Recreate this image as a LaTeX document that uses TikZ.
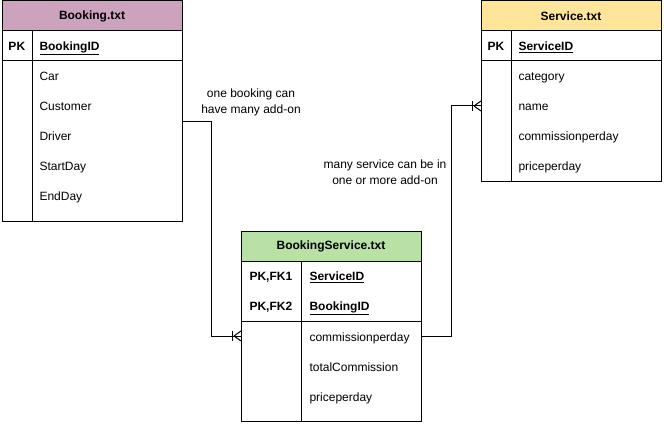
\documentclass[tikz,border=0pt]{standalone}
\usepackage{fontspec}
\setmainfont{Liberation Sans}
\definecolor{bkc}{HTML}{CDA2BE}
\definecolor{svc}{HTML}{FFE599}
\definecolor{bsc}{HTML}{B9E0A5}
\begin{document}
\begin{tikzpicture}[x=1pt,y=-1pt,line width=1pt,
  cell/.style={draw, anchor=north west, minimum width=180pt, inner sep=0pt, outer sep=0pt},
  hdr/.style={cell, minimum height=30pt, font=\fontsize{12}{14}\selectfont\bfseries},
  lbl/.style={anchor=base west, inner sep=0pt, font=\fontsize{12}{14}\selectfont},
  note/.style={align=center, inner sep=0pt, font=\fontsize{12}{16}\selectfont},
  crow/.pic={\draw (-9,-5) -- (-9,5); \draw (-7,0) -- (0,-5) (-7,0) -- (0,5);}
]
\useasboundingbox (0,0) rectangle (664,425);

% Booking table
\node[hdr, fill=bkc] (bkh) at (2,1) {Booking.txt};
\node[cell, minimum height=30pt] (bkpk) at (2,31) {};
\node[cell, minimum height=160pt] (bkb) at (2,61) {};
\draw ([xshift=30pt]bkpk.north west) -- ([xshift=30pt]bkb.south west);
\node[lbl] (bkk) at (8,50.5) {\bfseries PK};
\node[lbl] (bkid) at (39,50.5) {\bfseries\underline{BookingID}};
\node[lbl] (bka1) at (39,80.5) {Car};
\node[lbl] (bka2) at (39,110.5) {Customer};
\node[lbl] (bka3) at (39,140.5) {Driver};
\node[lbl] (bka4) at (39,170.5) {StartDay};
\node[lbl] (bka5) at (39,200.5) {EndDay};

% Service table
\node[hdr, fill=svc] (svh) at (481,1) {Service.txt};
\node[cell, minimum height=30pt] (svpk) at (481,31) {};
\node[cell, minimum height=120pt] (svb) at (481,61) {};
\draw ([xshift=30pt]svpk.north west) -- ([xshift=30pt]svb.south west);
\node[lbl] (svk) at (487,50.5) {\bfseries PK};
\node[lbl] (svid) at (518,50.5) {\bfseries\underline{ServiceID}};
\node[lbl] (sva1) at (518,80.5) {category};
\node[lbl] (sva2) at (518,110.5) {name};
\node[lbl] (sva3) at (518,140.5) {commissionperday};
\node[lbl] (sva4) at (518,170.5) {priceperday};

% BookingService table
\node[hdr, fill=bsc] (bsh) at (241,231) {BookingService.txt};
\node[cell, minimum height=60pt] (bspk) at (241,261) {};
\node[cell, minimum height=100pt] (bsb) at (241,321) {};
\draw ([xshift=60pt]bspk.north west) -- ([xshift=60pt]bsb.south west);
\node[lbl] (bsk1) at (249,280.5) {\bfseries PK,FK1};
\node[lbl] (bsid1) at (309,280.5) {\bfseries\underline{ServiceID}};
\node[lbl] (bsk2) at (249,310.5) {\bfseries PK,FK2};
\node[lbl] (bsid2) at (309,310.5) {\bfseries\underline{BookingID}};
\node[lbl] (bsa1) at (309,341) {commissionperday};
\node[lbl] (bsa2) at (309,371) {totalCommission};
\node[lbl] (bsa3) at (309,401) {priceperday};

% connectors
\coordinate (y1) at (0,122);
\coordinate (y2) at (0,106);
\coordinate (y3) at (0,336);
\draw (bkb.east |- y1) -- ++(29,0) |- (bsb.west |- y3);
\pic at (bsb.west |- y3) {crow};
\draw (bsb.east |- y3) -- ++(30,0) |- (svb.west |- y2);
\pic at (svb.west |- y2) {crow};

% labels
\node[note] (n1) at (251,102.5) {one booking can\\have many add-on};
\node[note] (n2) at (385,172.5) {many service can be in\\one or more add-on};
\end{tikzpicture}
\end{document}
